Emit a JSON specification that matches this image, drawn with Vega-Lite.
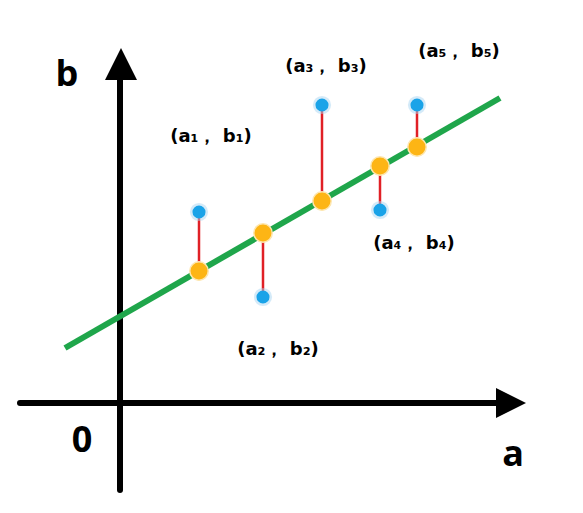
{
  "$schema": "https://vega.github.io/schema/vega-lite/v6.json",
  "width": 583,
  "height": 513,
  "padding": 0,
  "autosize": {"type": "fit", "contains": "padding"},
  "background": "white",
  "config": {"view": {"stroke": null}},
  "datasets": {
    "axes": [
      {"name": "horizontal", "x1": -100, "x2": 382, "y1": 0, "y2": 0},
      {"name": "vertical", "x1": 0, "x2": 0, "y1": -87, "y2": 325}
    ],
    "arrows": [
      {"name": "a", "x": 391, "y": 0, "shape": "right"},
      {"name": "b", "x": 1, "y": 339, "shape": "up"}
    ],
    "fit": [
      {"x": -55, "y": 55},
      {"x": 380, "y": 305}
    ],
    "points": [
      {"i": 1, "a": 79, "b": 191, "fitted": 132},
      {"i": 2, "a": 143, "b": 106, "fitted": 170},
      {"i": 3, "a": 202, "b": 298, "fitted": 202},
      {"i": 4, "a": 260, "b": 193, "fitted": 237},
      {"i": 5, "a": 297, "b": 298, "fitted": 256}
    ],
    "labels": [
      {"text": "(a₁， b₁)", "x": 91, "y": 266, "kind": "point"},
      {"text": "(a₂， b₂)", "x": 158, "y": 53, "kind": "point"},
      {"text": "(a₃， b₃)", "x": 206, "y": 336, "kind": "point"},
      {"text": "(a₄， b₄)", "x": 294, "y": 159, "kind": "point"},
      {"text": "(a₅， b₅)", "x": 339, "y": 351, "kind": "point"},
      {"text": "b", "x": -53, "y": 328, "kind": "axis"},
      {"text": "0", "x": -38, "y": -38, "kind": "axis"},
      {"text": "a", "x": 393, "y": -52, "kind": "axis"}
    ]
  },
  "layer": [
    {
      "data": {"name": "axes"},
      "mark": {"type": "rule", "color": "black", "strokeWidth": 6, "strokeCap": "round"},
      "encoding": {
        "x": {"field": "x1", "type": "quantitative", "scale": {"domain": [-120, 463], "nice": false, "zero": false}, "axis": null},
        "x2": {"field": "x2"},
        "y": {"field": "y1", "type": "quantitative", "scale": {"domain": [-110, 403], "nice": false, "zero": false}, "axis": null},
        "y2": {"field": "y2"}
      }
    },
    {
      "data": {"name": "arrows"},
      "transform": [{"filter": "datum.shape === 'right'"}],
      "mark": {"type": "point", "shape": "M-1,-1L1,0L-1,1Z", "filled": true, "color": "black", "size": 900, "opacity": 1},
      "encoding": {
        "x": {"field": "x", "type": "quantitative"},
        "y": {"field": "y", "type": "quantitative"}
      }
    },
    {
      "data": {"name": "arrows"},
      "transform": [{"filter": "datum.shape === 'up'"}],
      "mark": {"type": "point", "shape": "M0,-1L1,1L-1,1Z", "filled": true, "color": "black", "size": 1024, "opacity": 1},
      "encoding": {
        "x": {"field": "x", "type": "quantitative"},
        "y": {"field": "y", "type": "quantitative"}
      }
    },
    {
      "data": {"name": "fit"},
      "mark": {"type": "line", "color": "#1fa64b", "strokeWidth": 6},
      "encoding": {
        "x": {"field": "x", "type": "quantitative"},
        "y": {"field": "y", "type": "quantitative"}
      }
    },
    {
      "data": {"name": "points"},
      "mark": {"type": "rule", "color": "#e02026", "strokeWidth": 2.5},
      "encoding": {
        "x": {"field": "a", "type": "quantitative"},
        "y": {"field": "b", "type": "quantitative"},
        "y2": {"field": "fitted"}
      }
    },
    {
      "data": {"name": "points"},
      "mark": {"type": "point", "shape": "circle", "filled": false, "stroke": "#a9d6f2", "strokeWidth": 4, "strokeOpacity": 0.7, "size": 200},
      "encoding": {
        "x": {"field": "a", "type": "quantitative"},
        "y": {"field": "b", "type": "quantitative"}
      }
    },
    {
      "data": {"name": "points"},
      "mark": {"type": "point", "shape": "circle", "filled": true, "color": "#1aa3e8", "opacity": 1, "size": 170},
      "encoding": {
        "x": {"field": "a", "type": "quantitative"},
        "y": {"field": "b", "type": "quantitative"}
      }
    },
    {
      "data": {"name": "points"},
      "mark": {"type": "point", "shape": "circle", "filled": true, "color": "#fdb515", "stroke": "#fde6b0", "strokeWidth": 1.5, "opacity": 1, "size": 340},
      "encoding": {
        "x": {"field": "a", "type": "quantitative"},
        "y": {"field": "fitted", "type": "quantitative"}
      }
    },
    {
      "data": {"name": "labels"},
      "transform": [{"filter": "datum.kind === 'point'"}],
      "mark": {"type": "text", "font": "DejaVu Sans", "fontWeight": "bold", "fontSize": 18, "color": "black", "align": "center", "baseline": "middle"},
      "encoding": {
        "x": {"field": "x", "type": "quantitative"},
        "y": {"field": "y", "type": "quantitative"},
        "text": {"field": "text"}
      }
    },
    {
      "data": {"name": "labels"},
      "transform": [{"filter": "datum.kind === 'axis'"}],
      "mark": {"type": "text", "font": "Open Sans", "fontWeight": "bold", "fontSize": 36, "color": "black", "align": "center", "baseline": "middle"},
      "encoding": {
        "x": {"field": "x", "type": "quantitative"},
        "y": {"field": "y", "type": "quantitative"},
        "text": {"field": "text"}
      }
    }
  ]
}
